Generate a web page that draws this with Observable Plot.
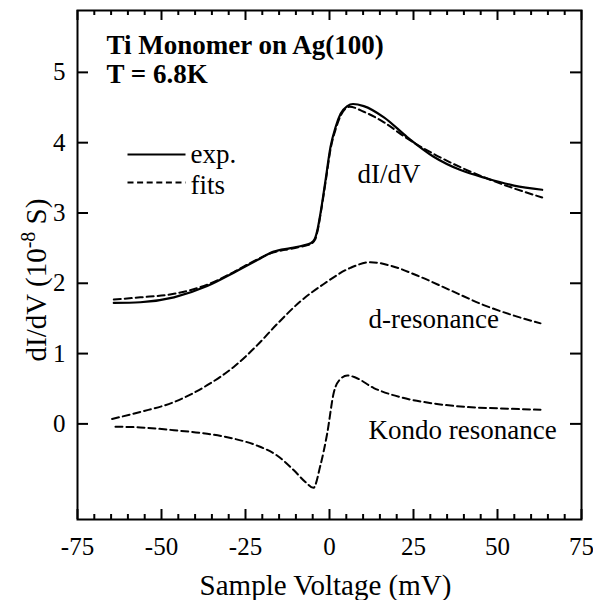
<!DOCTYPE html>
<html><head><meta charset="utf-8">
<script src="https://cdn.jsdelivr.net/npm/d3@7"></script>
<script src="https://cdn.jsdelivr.net/npm/@observablehq/plot@0.6"></script>
<style>body{margin:0;background:#fff} svg{display:block}</style>
</head><body><div id="chart"></div>
<script>
// Experimental dI/dV (solid)
const expV = [-64.2,-56.3,-46.3,-36.4,-28.5,-21.5,-16.6,-11.6,-7.6,-5.6,-4.4,-3.5,-2.7,-1.2,0.3,1.8,3.3,5.3,7.0,10.2,16.2,23.1,31.0,39.0,46.9,54.9,63.3];
const expG = [1.72,1.73,1.80,1.96,2.15,2.33,2.45,2.50,2.54,2.57,2.63,2.78,2.99,3.46,3.94,4.22,4.41,4.52,4.55,4.52,4.36,4.08,3.80,3.61,3.49,3.39,3.33];
// Fit of dI/dV (dashed)
const fitV = [-64.2,-56.3,-46.3,-36.4,-28.5,-21.5,-16.6,-11.6,-7.6,-5.5,-4.3,-3.4,-2.6,-1.1,0.4,1.9,3.5,6.0,10.2,16.2,23.1,31.0,39.0,46.9,54.9,63.3];
const fitG = [1.77,1.80,1.85,1.98,2.16,2.34,2.44,2.49,2.53,2.56,2.62,2.78,3.00,3.46,3.93,4.20,4.40,4.51,4.44,4.29,4.06,3.84,3.65,3.49,3.35,3.22];
// d-resonance (dashed)
const dresV = [-64.7,-56.3,-46.3,-36.4,-28.5,-21.5,-15.6,-8.6,-1.7,6.25,12.2,18.2,26.1,36.0,45.9,54.9,62.8];
const dresG = [0.07,0.17,0.31,0.55,0.81,1.12,1.42,1.745,1.99,2.22,2.30,2.25,2.11,1.90,1.69,1.54,1.43];
// Kondo resonance (dashed)
const kondoV = [-63.7,-56.3,-46.3,-36.4,-28.5,-21.5,-15.6,-10.6,-7.1,-4.8,-2.7,-0.7,1.3,3.3,5.3,7.7,13.2,21.1,31.0,41.0,50.9,62.8];
const kondoG = [-0.04,-0.05,-0.09,-0.14,-0.21,-0.31,-0.45,-0.66,-0.83,-0.91,-0.59,-0.14,0.45,0.64,0.69,0.66,0.51,0.38,0.29,0.24,0.22,0.20];

const xMajor = [-75,-50,-25,0,25,50,75];
const xMinor = [-70,-65,-60,-55,-45,-40,-35,-30,-20,-15,-10,-5,5,10,15,20,30,35,40,45,55,60,65,70];
const yMajor = [0,1,2,3,4,5];

const W = 593, H = 600, ML = 77, MR = 12, MT = 10, MB = 81;
const innerW = W - ML - MR, innerH = H - MT - MB;
const xDomain = [-75, 75], yDomain = [-1.36, 5.88];

const toRows = (V, G) => V.map((v, i) => ({v, g: G[i]}));
const expRows = toRows(expV, expG), fitRows = toRows(fitV, fitG);
const dRows = toRows(dresV, dresG), kRows = toRows(kondoV, kondoG);

const xs = Plot.scale({x: {domain: xDomain, range: [ML, W - MR]}});
const ys = Plot.scale({y: {domain: yDomain, range: [H - MB, MT]}});
const lg = {x1: xs.invert(127), x2: xs.invert(185), ySolid: ys.invert(154), yDash: ys.invert(182)};

const serif = "'Liberation Serif', 'Times New Roman', Times, serif";
const dash = "7,4";

const plot = Plot.plot({
  width: W, height: H,
  marginLeft: ML, marginRight: MR, marginTop: MT, marginBottom: MB,
  x: {domain: xDomain},
  y: {domain: yDomain},
  style: {fontFamily: serif, fontSize: "25px", color: "black", background: "white"},
  marks: [
    Plot.line(kRows, {x: "v", y: "g", stroke: "black", strokeWidth: 2, strokeDasharray: dash, curve: "monotone-x"}),
    Plot.line(dRows, {x: "v", y: "g", stroke: "black", strokeWidth: 2, strokeDasharray: dash, curve: "monotone-x"}),
    Plot.line(expRows, {x: "v", y: "g", stroke: "black", strokeWidth: 2.2, curve: "monotone-x"}),
    Plot.line(fitRows, {x: "v", y: "g", stroke: "black", strokeWidth: 2, strokeDasharray: dash, curve: "monotone-x"}),
    // ticks (inward)
    Plot.tickX(xMajor, {x: d => d, insetTop: innerH - 10, stroke: "black", strokeWidth: 2}),
    Plot.tickX(xMajor, {x: d => d, insetBottom: innerH - 10, stroke: "black", strokeWidth: 2}),
    Plot.tickX(xMinor, {x: d => d, insetTop: innerH - 5, stroke: "black", strokeWidth: 2}),
    Plot.tickX(xMinor, {x: d => d, insetBottom: innerH - 5, stroke: "black", strokeWidth: 2}),
    Plot.tickY(yMajor, {y: d => d, insetRight: innerW - 11, stroke: "black", strokeWidth: 2}),
    Plot.tickY(yMajor, {y: d => d, insetLeft: innerW - 11, stroke: "black", strokeWidth: 2}),
    Plot.frame({stroke: "black", strokeWidth: 2}),
    // tick labels
    Plot.axisX(xMajor, {anchor: "bottom", tickSize: 0, tickPadding: 18, label: null, tickFormat: d => String(d), fontSize: 25}),
    Plot.axisY(yMajor, {anchor: "left", tickSize: 0, tickPadding: 12, label: null, tickFormat: d => String(d), fontSize: 25}),
    // axis title x
    Plot.text(["Sample Voltage (mV)"], {frameAnchor: "bottom", lineAnchor: "bottom", dx: -4, dy: 75, fontSize: 29}),
    // title
    Plot.text(["Ti Monomer on Ag(100)"], {frameAnchor: "top-left", lineAnchor: "bottom", dx: 29, dy: 43, fontSize: 27, fontWeight: "bold"}),
    Plot.text(["T = 6.8K"], {frameAnchor: "top-left", lineAnchor: "bottom", dx: 29, dy: 72, fontSize: 27, fontWeight: "bold"}),
    // legend
    Plot.link([lg], {x1: "x1", x2: "x2", y1: "ySolid", y2: "ySolid", stroke: "black", strokeWidth: 2.2}),
    Plot.link([lg], {x1: "x1", x2: "x2", y1: "yDash", y2: "yDash", stroke: "black", strokeWidth: 2, strokeDasharray: "6,3.6"}),
    Plot.text(["exp."], {frameAnchor: "top-left", lineAnchor: "bottom", dx: 113, dy: 152, fontSize: 27}),
    Plot.text(["fits"], {frameAnchor: "top-left", lineAnchor: "bottom", dx: 113, dy: 183, fontSize: 27}),
    // curve annotations
    Plot.text(["dI/dV"], {frameAnchor: "top-left", lineAnchor: "bottom", dx: 280, dy: 172, fontSize: 27}),
    Plot.text(["d-resonance"], {frameAnchor: "top-left", lineAnchor: "bottom", dx: 291, dy: 317, fontSize: 27}),
    Plot.text(["Kondo resonance"], {frameAnchor: "top-left", lineAnchor: "bottom", dx: 291, dy: 428, fontSize: 27})
  ]
});

// y-axis title with superscript
const svg = d3.select(plot);
const t = svg.append("text")
  .attr("transform", "translate(46,280) rotate(-90)")
  .attr("text-anchor", "middle")
  .attr("font-family", serif)
  .attr("font-size", 29)
  .attr("fill", "black");
t.append("tspan").text("dI/dV (10");
t.append("tspan").attr("dy", -11).attr("font-size", 20).text("-8");
t.append("tspan").attr("dy", 11).text(" S)");

document.getElementById("chart").appendChild(plot);
</script>
</body></html>
